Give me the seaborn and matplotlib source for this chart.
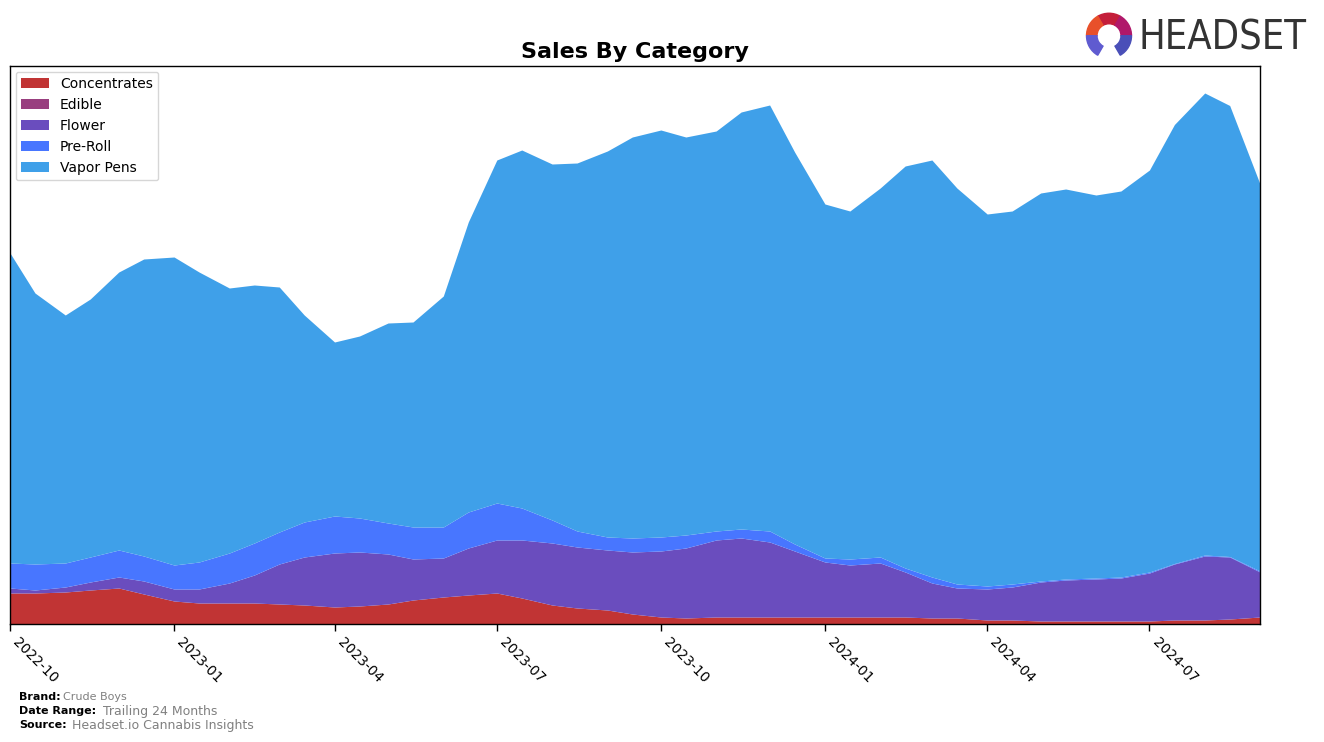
import matplotlib
matplotlib.use("Agg")
import matplotlib.pyplot as plt
import matplotlib.dates as mdates
from matplotlib.patches import Wedge
import pandas as pd
import seaborn as sns

# ---- data (semi-monthly, arbitrary units) ----
dates = [
    "2022-10-01", "2022-10-15", "2022-11-01", "2022-11-15", "2022-12-01", "2022-12-15",
    "2023-01-01", "2023-01-15", "2023-02-01", "2023-02-15", "2023-03-01", "2023-03-15",
    "2023-04-01", "2023-04-15", "2023-05-01", "2023-05-15", "2023-06-01", "2023-06-15",
    "2023-07-01", "2023-07-15", "2023-08-01", "2023-08-15", "2023-09-01", "2023-09-15",
    "2023-10-01", "2023-10-15", "2023-11-01", "2023-11-15", "2023-12-01", "2023-12-15",
    "2024-01-01", "2024-01-15", "2024-02-01", "2024-02-15", "2024-03-01", "2024-03-15",
    "2024-04-01", "2024-04-15", "2024-05-01", "2024-05-15", "2024-06-01", "2024-06-15",
    "2024-07-01", "2024-07-15", "2024-08-01", "2024-08-15", "2024-09-01",
]
concentrates = [31, 31, 32, 34, 36, 30, 23, 21, 21, 21, 20, 19, 17, 18, 20, 24, 27, 29,
                31, 26, 19, 16, 14, 10, 7, 6, 7, 7, 7, 7, 7, 7, 7, 7, 6, 6,
                4, 4, 3, 3, 3, 3, 3, 4, 4, 5, 7]
edible = [0] * 47
flower = [5, 3, 5, 8, 11, 13, 12, 14, 20, 28, 40, 48, 54, 54, 50, 41, 39, 47,
          53, 58, 62, 61, 60, 62, 66, 70, 77, 79, 75, 66, 55, 52, 54, 45, 35, 30,
          31, 33, 39, 41, 42, 43, 48, 56, 64, 62, 45]
preroll = [25, 26, 24, 25, 27, 25, 24, 27, 30, 32, 32, 35, 37, 34, 31, 32, 31, 36,
           37, 32, 23, 16, 13, 14, 14, 13, 9, 9, 11, 7, 4, 6, 6, 4, 6, 4,
           3, 3, 1, 1, 1, 1, 1, 0.5, 1, 0.5, 1]
vapor = [310, 271, 248, 258, 278, 297, 308, 290, 265, 258, 245, 207, 174, 182, 200, 205, 231, 290,
         343, 358, 356, 368, 386, 401, 407, 398, 400, 417, 426, 392, 354, 348, 369, 402, 417, 396,
         372, 373, 388, 390, 383, 386, 402, 439, 462, 451, 387]
categories = ["Concentrates", "Edible", "Flower", "Pre-Roll", "Vapor Pens"]
colors = ["#C13434", "#993F7F", "#6A4DBE", "#4876FF", "#3FA0E9"]

# ---- figure ----
sns.set_theme(style="white")
plt.rcParams["font.family"] = ["DejaVu Sans"]
plt.rcParams["text.color"] = "black"
plt.rcParams["xtick.color"] = "black"
plt.rcParams["axes.titlecolor"] = "black"

fig = plt.figure(figsize=(13.24, 7.42), dpi=100)
ax = fig.add_axes([10 / 1324, 1 - 624 / 742, 1250 / 1324, 558 / 742])

x = pd.to_datetime(dates)
ax.stackplot(x, concentrates, edible, flower, preroll, vapor,
             labels=categories, colors=colors, linewidth=0)

ax.set_xlim(pd.Timestamp("2022-10-01"), pd.Timestamp("2024-09-01"))
ax.set_ylim(0, 558)
ax.set_yticks([])
ax.xaxis.set_major_locator(mdates.MonthLocator(bymonth=[1, 4, 7, 10]))
ax.xaxis.set_major_formatter(mdates.DateFormatter("%Y-%m"))
ax.tick_params(axis="x", which="major", length=5, width=1, color="black",
               labelcolor="black", labelsize=10, bottom=True, pad=3)
for lbl in ax.get_xticklabels():
    lbl.set_rotation(-45)
    lbl.set_ha("left")
for sp in ax.spines.values():
    sp.set_color("black")
    sp.set_linewidth(1)

ax.set_title("Sales By Category", fontsize=16, fontweight="bold", pad=6, color="black")
leg = ax.legend(loc="upper left", fontsize=10, frameon=True, borderaxespad=0.4,
                handlelength=2.0)
for t in leg.get_texts():
    t.set_color("black")

# ---- footer ----
fig.text(19 / 1324, 1 - 697 / 742, "Brand:", fontsize=8, fontweight="bold", va="center")
fig.text(63 / 1324, 1 - 697 / 742, "Crude Boys", fontsize=8, color="gray", va="center")
fig.text(19 / 1324, 1 - 711 / 742, "Date Range:", fontsize=8, fontweight="bold", va="center")
fig.text(103 / 1324, 1 - 711 / 742, "Trailing 24 Months", fontsize=9, color="gray", va="center")
fig.text(19 / 1324, 1 - 725 / 742, "Source:", fontsize=8, fontweight="bold", va="center")
fig.text(72 / 1324, 1 - 725 / 742, "Headset.io Cannabis Insights", fontsize=9, color="gray", va="center")

# ---- logo ----
fig.text(1139 / 1324, 1 - 38 / 742, "HEADSET", fontsize=28.5, color="#333333",
         va="center", ha="left", family=["DejaVu Sans"], fontstretch="condensed")
lax = fig.add_axes([1084 / 1324, 1 - 62 / 742, 50 / 1324, 50 / 742])
lax.set_xlim(-1, 1)
lax.set_ylim(-1, 1)
lax.set_aspect("equal")
lax.axis("off")
segs = [(60, 120, "#C41E3A"), (120, 180, "#E8502A"), (0, 60, "#B0186A"),
        (180, 240, "#5F5BD0"), (300, 360, "#4A4FB8")]
for a1, a2, c in segs:
    lax.add_patch(Wedge((0, 0.05), 0.9, a1, a2, width=0.42, color=c))

fig.savefig("out.png", dpi=100)
